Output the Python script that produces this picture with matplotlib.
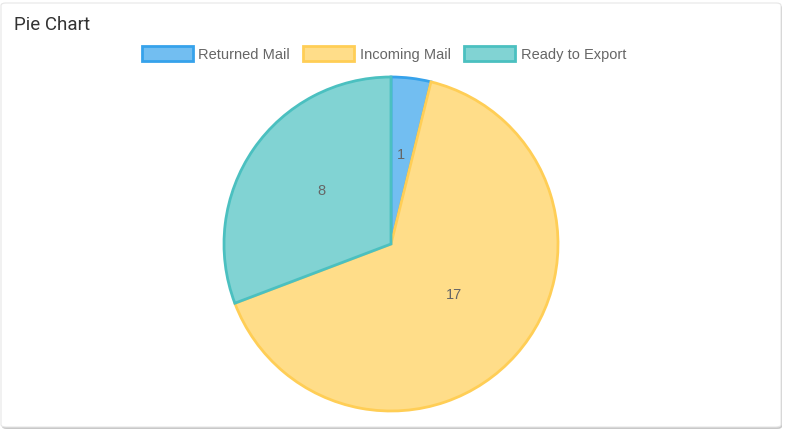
import matplotlib
matplotlib.use("Agg")
import matplotlib.pyplot as plt
from matplotlib.patches import FancyBboxPatch, Patch

# data
labels = ["Returned Mail", "Incoming Mail", "Ready to Export"]
values = [1, 17, 8]
fills = ["#72bef1", "#ffdd89", "#81d3d3"]
edges = ["#36a2eb", "#ffce56", "#4bc0c0"]

W, H = 785, 430
fig = plt.figure(figsize=(W / 100, H / 100), dpi=100)

# card background with a soft shadow
shadow = FancyBboxPatch((2 / W, 1 / H), 780 / W, 424 / H,
                        boxstyle="round,pad=0,rounding_size=0.006",
                        transform=fig.transFigure, facecolor="#c8c8c8",
                        edgecolor="none", zorder=-2)
card = FancyBboxPatch((1 / W, 3 / H), 780 / W, 424 / H,
                      boxstyle="round,pad=0,rounding_size=0.006",
                      transform=fig.transFigure, facecolor="white",
                      edgecolor="#e6e6e6", linewidth=0.8, zorder=-1)
fig.patches.extend([shadow, card])

fig.text(14 / W, 1 - 25 / H, "Pie Chart", fontsize=13.5, color="#333333",
         family="Roboto", va="center", ha="left")

# pie: centre (391, 244), radius 168 px
cx, cy, r = 391, 244, 168
ax = fig.add_axes([(cx - r) / W, (H - cy - r) / H, 2 * r / W, 2 * r / H])
ax.set_zorder(2)

wedges, texts, autotexts = ax.pie(
    values, colors=fills, startangle=90, counterclock=False, radius=1,
    autopct=lambda p: "%d" % round(p * sum(values) / 100),
    pctdistance=0.505,
    wedgeprops=dict(linewidth=2, antialiased=True),
    textprops=dict(fontsize=10.5, color="#666666", family="Liberation Sans"))
for w, ec in zip(wedges, edges):
    w.set_edgecolor(ec)
# value labels sit a few pixels above the radial midpoint
for t in autotexts:
    x, y = t.get_position()
    t.set_position((x, y + 0.03))

# pie() resets the limits, so set them afterwards
ax.set_xlim(-1.006, 1.006)
ax.set_ylim(-1.006, 1.006)
ax.set_aspect("equal")
ax.axis("off")

handles = [Patch(facecolor=f, edgecolor=e, linewidth=2) for f, e in zip(fills, edges)]
fig.legend(handles, labels, loc="center", bbox_to_anchor=(384 / W, 1 - 54 / H),
           ncol=3, frameon=False, labelcolor="#666666",
           prop=dict(family="Liberation Sans", size=10.5),
           handlelength=3.5, handleheight=1.15, handletextpad=0.4,
           columnspacing=0.9, borderaxespad=0)

fig.savefig("out.png", dpi=100)
